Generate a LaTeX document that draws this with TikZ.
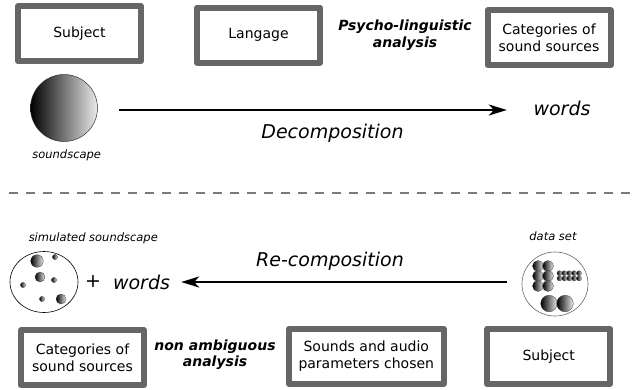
\documentclass[tikz,border=0pt]{standalone}
\usepackage{fontspec}
\setmainfont{DejaVu Sans}
\usetikzlibrary{arrows.meta,shapes.geometric}
\definecolor{boxgray}{HTML}{666666}
\definecolor{dashgray}{HTML}{7A7A7A}

\begin{document}
\begin{tikzpicture}[x=1pt,y=-1pt,
  box/.style={draw=boxgray, line width=6pt, line join=round, fill=white,
    inner sep=0pt, minimum width=123pt, minimum height=55pt, align=center,
    font=\fontsize{14}{17.5}\selectfont},
  note/.style={inner sep=0pt, align=center,
    font=\fontsize{14}{16.8}\selectfont\bfseries\itshape},
  big/.style={inner sep=0pt, font=\fontsize{19}{22}\selectfont\itshape},
  small/.style={inner sep=0pt, font=\fontsize{11.5}{14}\selectfont\itshape},
  flow/.style={line width=2pt, -{Stealth[length=18pt,width=11pt,inset=5pt]}},
  ball/.style={draw=black!75, line width=0.3pt, left color=black, right color=black!8},
  cloud/.style={ellipse, inner sep=0pt, line width=0.6pt},
]
\useasboundingbox (0,0) rectangle (635,389);

% ---------- analysis (top half) ----------
\node[box] (subj1) at (79.5,33.7) {Subject};
\node[box] (lang) at (258.5,35) {Langage};
\node[box] (cat1) at (549,37.8) {Categories of\\sound sources};
\node[note] (psy) at (405,35.3) {Psycho-linguistic\\analysis};

\node[circle, inner sep=0pt, minimum size=67pt, draw=black!80, line width=0.5pt,
      left color=black, right color=black!8] (sc) at (64,108) {};
\node[small, anchor=base] (sclab) at (66.7,158.3) {soundscape};

\node[big] (wt) at (562,108) {words};
\coordinate (dstart) at (119,110);
\draw[flow, shorten >=26.5pt] (dstart) -- (dstart -| wt.west);
\node[big, anchor=base] (decomp) at (332.5,138.3) {Decomposition};

% ---------- separator ----------
\coordinate (sepL) at (9,193);
\coordinate (sepR) at (630,193);
\draw[dashgray, line width=2pt, dash pattern=on 9pt off 8pt] (sepL) -- (sepR);

% ---------- synthesis (bottom half) ----------
\node[small, anchor=base] (simlab) at (93.3,241.7) {simulated soundscape};
\node[cloud, draw=black, minimum width=68pt, minimum height=61pt] (sim) at (44,282) {};
\foreach \cx/\cy/\r in {37/261/6.3, 55/257/2.6, 40/277/5, 54/280/2.6,
                        23/285/2.6, 42/299/2.6, 61/299/5}
  \shade[ball] (\cx,\cy) circle (\r);
\node[big, font=\fontsize{19}{22}\selectfont] (plus) at (93,282) {+};
\node[big] (wb) at (141.5,282) {words};

\node[small, anchor=base] (dslab) at (553,240.7) {data set};
\node[cloud, draw=black!60, minimum width=66pt, minimum height=64pt] (ds) at (555,284) {};
\foreach \cy in {266,276,286}
  \foreach \cx in {538,548}
    \shade[ball] (\cx,\cy) circle (5.5);
\foreach \cy in {273.2,278.4}
  \foreach \cx in {559.5,564.4,569.3,574.2,579.1}
    \shade[ball] (\cx,\cy) circle (2.5);
\shade[ball] (549,303.5) circle (8.3);
\shade[ball] (565,303.5) circle (8.3);

\draw[flow, shorten <=15pt, shorten >=11pt] (ds.west |- wb.east) -- (wb.east);
\node[big, anchor=base] (recomp) at (330,266) {Re-composition};

\node[box] (cat2) at (82.5,357.8) {Categories of\\sound sources};
\node[note] (nonamb) at (215,354.7) {non ambiguous\\analysis};
\node[box, minimum width=154.7pt] (sounds) at (366.3,356.3) {Sounds and audio\\parameters chosen};
\node[box] (subj2) at (548.7,356.3) {Subject};
\end{tikzpicture}
\end{document}
